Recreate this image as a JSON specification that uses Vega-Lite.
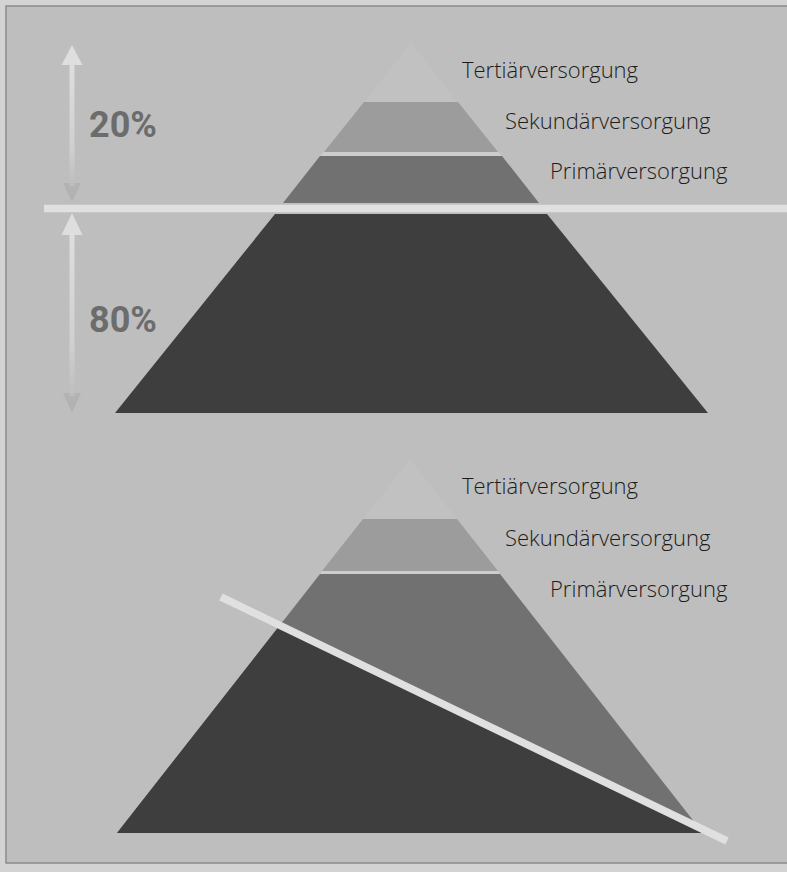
{
  "$schema": "https://vega.github.io/schema/vega-lite/v6.json",
  "width": 787,
  "height": 872,
  "padding": 0,
  "autosize": {"type": "none"},
  "background": "#d3d3d3",
  "config": {"view": {"stroke": null}},
  "datasets": {
    "frame": [{"x": 6, "x2": 800, "y": 6, "y2": 863}],
    "shapes": [
      {"id": "T1", "tier": "Tertiär", "layer": 1, "y": 43, "xl": 411, "xr": 411},
      {"id": "T1", "tier": "Tertiär", "layer": 1, "y": 102, "xl": 364, "xr": 458},
      {"id": "S1", "tier": "Sekundär", "layer": 1, "y": 102, "xl": 364, "xr": 458},
      {"id": "S1", "tier": "Sekundär", "layer": 1, "y": 152, "xl": 324, "xr": 498},
      {"id": "G1", "tier": "Fuge", "layer": 1, "y": 152, "xl": 324, "xr": 498},
      {"id": "G1", "tier": "Fuge", "layer": 1, "y": 156, "xl": 320, "xr": 502},
      {"id": "P1", "tier": "Primär", "layer": 1, "y": 156, "xl": 320, "xr": 502},
      {"id": "P1", "tier": "Primär", "layer": 1, "y": 203, "xl": 283, "xr": 539},
      {"id": "B1", "tier": "Basis", "layer": 1, "y": 214, "xl": 275, "xr": 547},
      {"id": "B1", "tier": "Basis", "layer": 1, "y": 413, "xl": 115, "xr": 708},
      {"id": "T2", "tier": "Tertiär", "layer": 1, "y": 459, "xl": 410, "xr": 410},
      {"id": "T2", "tier": "Tertiär", "layer": 1, "y": 519, "xl": 363, "xr": 457},
      {"id": "S2", "tier": "Sekundär", "layer": 1, "y": 519, "xl": 363, "xr": 457},
      {"id": "S2", "tier": "Sekundär", "layer": 1, "y": 571, "xl": 322, "xr": 498},
      {"id": "G2", "tier": "Fuge", "layer": 1, "y": 571, "xl": 322, "xr": 498},
      {"id": "G2", "tier": "Fuge", "layer": 1, "y": 574, "xl": 320, "xr": 500},
      {"id": "P2", "tier": "Primär", "layer": 1, "y": 574, "xl": 320, "xr": 500},
      {"id": "P2", "tier": "Primär", "layer": 1, "y": 833, "xl": 117, "xr": 703},
      {"id": "B2", "tier": "Basis", "layer": 2, "y": 625, "xl": 280, "xr": 280},
      {"id": "B2", "tier": "Basis", "layer": 2, "y": 833, "xl": 117, "xr": 703},
      {"id": "A1", "tier": "Pfeil", "layer": 2, "y": 45, "xl": 72, "xr": 72},
      {"id": "A1", "tier": "Pfeil", "layer": 2, "y": 65, "xl": 61.5, "xr": 82.5},
      {"id": "A2", "tier": "Pfeilende", "layer": 2, "y": 183, "xl": 63, "xr": 81},
      {"id": "A2", "tier": "Pfeilende", "layer": 2, "y": 202, "xl": 72, "xr": 72},
      {"id": "A3", "tier": "Pfeil", "layer": 2, "y": 213, "xl": 72, "xr": 72},
      {"id": "A3", "tier": "Pfeil", "layer": 2, "y": 235, "xl": 61.5, "xr": 82.5},
      {"id": "A4", "tier": "Pfeilende", "layer": 2, "y": 393, "xl": 63, "xr": 81},
      {"id": "A4", "tier": "Pfeilende", "layer": 2, "y": 413, "xl": 72, "xr": 72}
    ],
    "shafts": [
      {"x": 69.5, "x2": 74.5, "y": 64, "y2": 186},
      {"x": 69.5, "x2": 74.5, "y": 234, "y2": 396}
    ],
    "lines": [
      {"x": 44, "x2": 787, "y": 208.5, "y2": 208.5},
      {"x": 221, "x2": 727, "y": 597, "y2": 841}
    ],
    "labels": [
      {"label": "Tertiärversorgung", "x": 462, "y": 78},
      {"label": "Sekundärversorgung", "x": 505, "y": 129},
      {"label": "Primärversorgung", "x": 550, "y": 179},
      {"label": "Tertiärversorgung", "x": 462, "y": 494},
      {"label": "Sekundärversorgung", "x": 505, "y": 546},
      {"label": "Primärversorgung", "x": 550, "y": 597}
    ],
    "pct": [
      {"label": "20%", "x": 89, "y": 137},
      {"label": "80%", "x": 89, "y": 332}
    ]
  },
  "layer": [
    {
      "data": {"name": "frame"},
      "mark": {"type": "rect", "fill": "#bebebe", "stroke": "#8c8c8c", "strokeWidth": 1.5},
      "encoding": {
        "x": {"field": "x", "type": "quantitative", "scale": {"domain": [0, 787], "nice": false, "zero": false}, "axis": null},
        "x2": {"field": "x2"},
        "y": {"field": "y", "type": "quantitative", "scale": {"domain": [0, 872], "reverse": true, "nice": false, "zero": false}, "axis": null},
        "y2": {"field": "y2"}
      }
    },
    {
      "data": {"name": "shapes"},
      "transform": [{"filter": "datum.layer == 1"}],
      "mark": {"type": "area", "orient": "horizontal"},
      "encoding": {
        "y": {"field": "y", "type": "quantitative"},
        "x": {"field": "xl", "type": "quantitative"},
        "x2": {"field": "xr"},
        "detail": {"field": "id"},
        "color": {"field": "tier", "type": "nominal", "legend": null,
          "scale": {"domain": ["Tertiär", "Sekundär", "Fuge", "Primär", "Basis", "Pfeil", "Pfeilende"],
                    "range": ["#c1c1c1", "#9c9c9c", "#cdcdcd", "#717171", "#3e3e3e", "#dedede", "#b2b2b2"]}}
      }
    },
    {
      "data": {"name": "shapes"},
      "transform": [{"filter": "datum.layer == 2"}],
      "mark": {"type": "area", "orient": "horizontal"},
      "encoding": {
        "y": {"field": "y", "type": "quantitative"},
        "x": {"field": "xl", "type": "quantitative"},
        "x2": {"field": "xr"},
        "detail": {"field": "id"},
        "color": {"field": "tier", "type": "nominal", "legend": null}
      }
    },
    {
      "data": {"name": "shafts"},
      "mark": {"type": "rect", "color": {"gradient": "linear", "x1": 0, "y1": 0, "x2": 0, "y2": 1,
        "stops": [{"offset": 0, "color": "#dedede"}, {"offset": 0.7, "color": "#cfcfcf"}, {"offset": 1, "color": "#bdbdbd"}]}},
      "encoding": {
        "x": {"field": "x", "type": "quantitative"},
        "x2": {"field": "x2"},
        "y": {"field": "y", "type": "quantitative"},
        "y2": {"field": "y2"}
      }
    },
    {
      "data": {"name": "lines"},
      "mark": {"type": "rule", "color": "#e0e0e0", "strokeWidth": 7.5, "strokeCap": "butt"},
      "encoding": {
        "x": {"field": "x", "type": "quantitative"},
        "x2": {"field": "x2"},
        "y": {"field": "y", "type": "quantitative"},
        "y2": {"field": "y2"}
      }
    },
    {
      "data": {"name": "labels"},
      "mark": {"type": "text", "align": "left", "baseline": "alphabetic", "font": "Open Sans", "fontWeight": 300, "fontSize": 22, "color": "#1c1c1c"},
      "encoding": {
        "x": {"field": "x", "type": "quantitative"},
        "y": {"field": "y", "type": "quantitative"},
        "text": {"field": "label"}
      }
    },
    {
      "data": {"name": "pct"},
      "mark": {"type": "text", "align": "left", "baseline": "alphabetic", "font": "Roboto", "fontWeight": "bold", "fontSize": 36, "color": "#6c6c6c"},
      "encoding": {
        "x": {"field": "x", "type": "quantitative"},
        "y": {"field": "y", "type": "quantitative"},
        "text": {"field": "label"}
      }
    }
  ]
}
